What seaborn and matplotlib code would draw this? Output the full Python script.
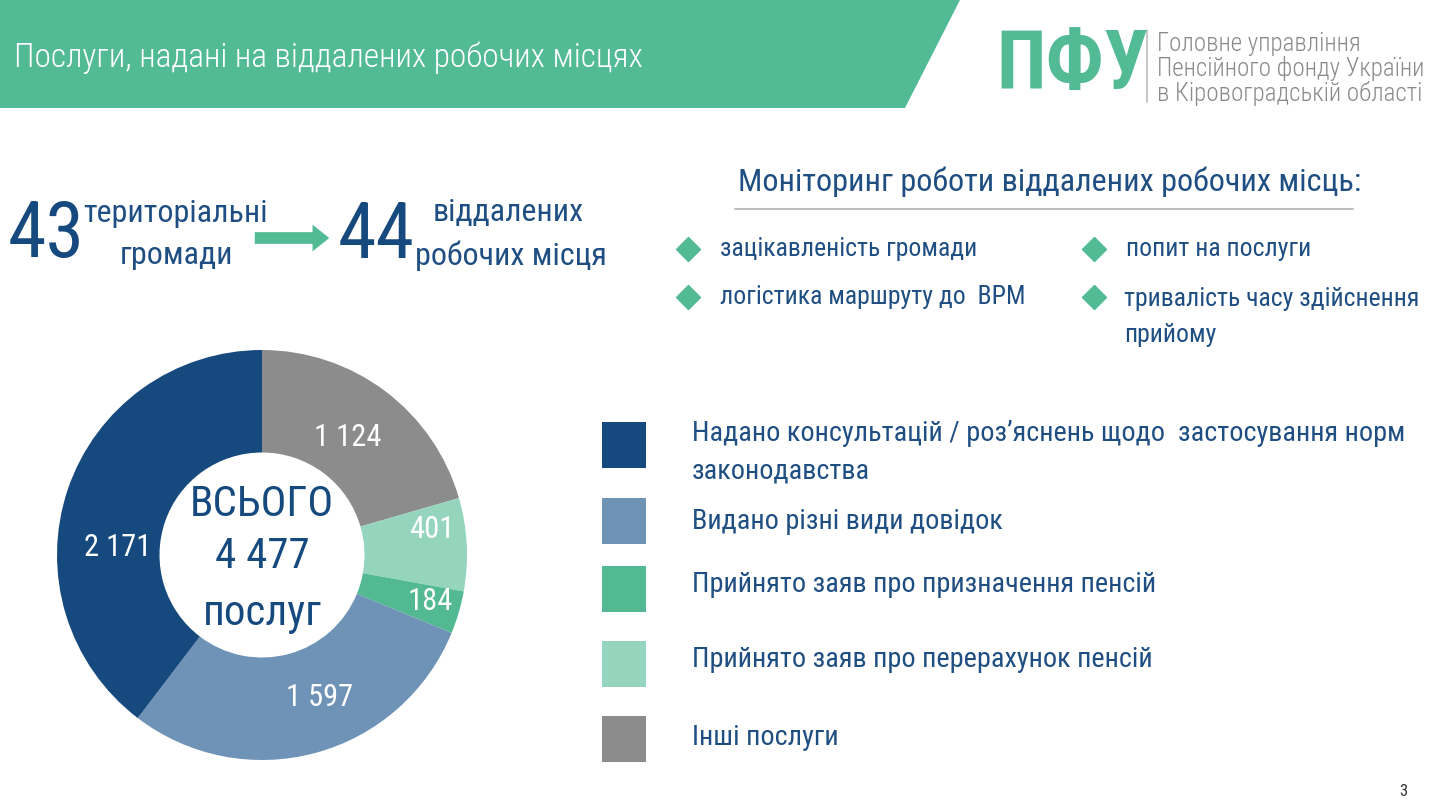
import matplotlib
matplotlib.use("Agg")
import matplotlib.pyplot as plt
import matplotlib.patches as mpatches
import seaborn as sns

# ===============================
# DATA
# ===============================
categories = [
    "Інші послуги",
    "Прийнято заяв про перерахунок пенсій",
    "Прийнято заяв про призначення пенсій",
    "Видано різні види довідок",
    "Надано консультацій / роз’яснень щодо  застосування норм\nзаконодавства",
]
values = [1124, 401, 184, 1597, 2171]
value_labels = ["1 124", "401", "184", "1 597", "2 171"]
total_label = "4 477"

monitoring = ["зацікавленість громади", "логістика маршруту до  ВРМ",
              "попит на послуги", "тривалість часу здійснення\nприйому"]

# ===============================
# STYLE
# ===============================
sns.set_theme(style="white")
plt.rcParams['font.family'] = ['Roboto Condensed', 'DejaVu Sans']

palette = sns.color_palette(["#8C8C8C", "#95D5BE", "#52B992", "#6F93B7", "#164A7E"])
GREEN = "#52BA94"
NAVY = "#164A7E"
TEXT = "#1F4E82"
GREY = "#8A8A8A"

fig = plt.figure(figsize=(14.4, 8.1), dpi=100)
fig.patch.set_facecolor("white")

# full-slide axes in pixel units
ax = fig.add_axes([0, 0, 1, 1])
ax.set_xlim(0, 1440)
ax.set_ylim(810, 0)
ax.axis("off")

# ===============================
# HEADER
# ===============================
ax.add_patch(mpatches.Polygon([(0, 0), (960, 0), (905, 108), (0, 108)],
                              closed=True, color=GREEN, lw=0))
ax.text(14, 58, "Послуги, надані на віддалених робочих місцях", color="white",
        fontsize=24, fontweight="light", va="center", ha="left")

ax.text(996, 66, "ПФУ", color=GREEN, fontsize=58, fontweight="bold",
        va="center", ha="left")
ax.plot([1147, 1147], [30, 102], color="#BBBBBB", lw=1.2)
for i, line in enumerate(["Головне управління", "Пенсійного фонду України",
                          "в Кіровоградській області"]):
    ax.text(1157, 44 + i * 24.5, line, color=GREY, fontsize=18, fontweight="light",
            va="center", ha="left")

# ===============================
# 43 -> 44
# ===============================
ax.text(8, 236, "43", color=NAVY, fontsize=56, va="center", ha="left")
ax.text(176, 213, "територіальні", color=TEXT, fontsize=23, va="center", ha="center")
ax.text(176, 256, "громади", color=TEXT, fontsize=23, va="center", ha="center")
ax.annotate("", xy=(332, 238), xytext=(252, 238),
            arrowprops=dict(arrowstyle="simple,head_length=1.0,head_width=1.6,tail_width=0.7",
                            color=GREEN, lw=0))
ax.text(338, 236, "44", color=NAVY, fontsize=56, va="center", ha="left")
ax.text(508, 213, "віддалених", color=TEXT, fontsize=23, va="center", ha="center")
ax.text(511, 256, "робочих місця", color=TEXT, fontsize=23, va="center", ha="center")

# ===============================
# MONITORING
# ===============================
ax.text(1050, 182, "Моніторинг роботи віддалених робочих місць:", color=TEXT,
        fontsize=23.2, va="center", ha="center")
ax.plot([735, 1353], [209, 209], color="#BDBDBD", lw=1.5)
bullet_xy = [(688, 249), (688, 297), (1094, 249), (1094, 297)]
for (bx, by), txt in zip(bullet_xy, monitoring):
    ax.scatter([bx], [by], marker="D", s=150, color=GREEN, zorder=3)
    if "\n" in txt:
        ax.text(bx + 30, by - 10, txt, color=TEXT, fontsize=18.5, va="top",
                ha="left", linespacing=1.65)
    else:
        ax.text(bx + 32, by, txt, color=TEXT, fontsize=18.5, va="center", ha="left")

# ===============================
# LEGEND
# ===============================
legend_y = [445, 521, 589, 664, 739]
text_y = [437, 525, 588, 663, 741]
order = [4, 3, 2, 1, 0]
for ly, ty, idx in zip(legend_y, text_y, order):
    ax.add_patch(mpatches.Rectangle((602, ly - 23), 44, 46, color=palette[idx], lw=0))
    ax.text(692, ty - 17, categories[idx], color=TEXT, fontsize=20.3,
            va="top", ha="left", linespacing=1.5)

# ===============================
# DONUT
# ===============================
cx, cy, r = 262, 555, 205
pax = fig.add_axes([(cx - r) / 1440, (810 - cy - r) / 810, 2 * r / 1440, 2 * r / 810])
wedges, _ = pax.pie(values, colors=palette, startangle=90, counterclock=False,
                    radius=1, wedgeprops=dict(width=0.5, edgecolor="white", linewidth=0))
pax.set_xlim(-1, 1)
pax.set_ylim(-1, 1)
pax.set_aspect("equal")
pax.axis("off")

label_xy = [(348, 437), (432, 530), (430, 602), (320, 698), (118, 547)]
for (lx, lyy), lab in zip(label_xy, value_labels):
    ax.text(lx, lyy, lab, color="white", fontsize=22, va="center", ha="center", zorder=5)

for ty, txt in zip([505, 557, 613], ["ВСЬОГО", total_label, "послуг"]):
    ax.text(cx, ty, txt, color=NAVY, fontsize=31, va="center", ha="center", zorder=5)

ax.text(1403, 792, "3", color="#333333", fontsize=12, va="center", ha="center")

ax.set_zorder(pax.get_zorder() + 1)
ax.patch.set_alpha(0)

fig.savefig("out.png", dpi=100)
